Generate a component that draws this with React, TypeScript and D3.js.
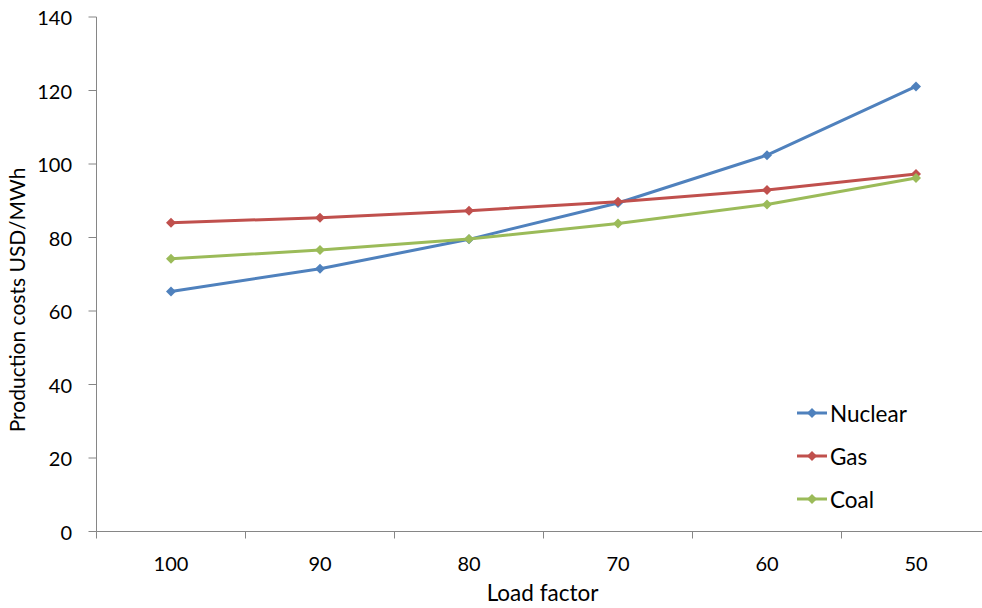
import React from "react";
import * as d3 from "d3";

const categories = ["100", "90", "80", "70", "60", "50"];
const nuclear = [65.3, 71.5, 79.5, 89.4, 102.4, 121.1];
const gas = [84.0, 85.4, 87.3, 89.7, 92.9, 97.3];
const coal = [74.2, 76.6, 79.6, 83.8, 89.0, 96.2];
const yTicks = [0, 20, 40, 60, 80, 100, 120, 140];
const seriesNames = ["Nuclear", "Gas", "Coal"];
const seriesColors = ["#4F81BD", "#C0504D", "#9BBB59"];

const W = 982;
const H = 608;
const left = 96.5;
const right = 990.5;
const top = 17;
const bottom = 531.5;
const FONT = "Lato, 'Open Sans', sans-serif";

export default function App() {
  const x = d3.scaleBand<string>().domain(categories).range([left, right]);
  const y = d3.scaleLinear().domain([0, 140]).range([bottom, top]);
  const data = [nuclear, gas, coal];
  const line = d3
    .line<number>()
    .x((_, i) => (x(categories[i]) as number) + x.bandwidth() / 2)
    .y((d) => y(d));
  const diamond = (cx: number, cy: number, r = 5) =>
    `M${cx},${cy - r}L${cx + r},${cy}L${cx},${cy + r}L${cx - r},${cy}Z`;
  const axisColor = "#868686";
  const boundaries = categories.map((c) => x(c) as number).concat([right]);

  return (
    <svg
      width={W}
      height={H}
      style={{ position: "absolute", left: 0, top: 0, background: "#fff" }}
      fontFamily={FONT}
    >
      {/* y axis */}
      <line x1={left} x2={left} y1={top} y2={bottom} stroke={axisColor} strokeWidth={1} />
      {yTicks.map((t) => (
        <g key={t}>
          <line x1={left - 8} x2={left} y1={y(t)} y2={y(t)} stroke={axisColor} />
          <text
            x={72}
            y={y(t)}
            textAnchor="end"
            dominantBaseline="central"
            fontSize={20}
            fill="#000"
          >
            {t}
          </text>
        </g>
      ))}
      {/* x axis */}
      <line x1={left} x2={right} y1={bottom} y2={bottom} stroke={axisColor} />
      {boundaries.map((b, i) => (
        <line key={i} x1={b} x2={b} y1={bottom} y2={bottom + 7} stroke={axisColor} />
      ))}
      {categories.map((c) => (
        <text
          key={c}
          x={(x(c) as number) + x.bandwidth() / 2}
          y={571}
          textAnchor="middle"
          fontSize={20}
          fill="#000"
        >
          {c}
        </text>
      ))}
      <text x={542.5} y={601} textAnchor="middle" fontSize={22.5} fill="#000">
        Load factor
      </text>
      <text
        transform={`translate(25,300) rotate(-90)`}
        textAnchor="middle"
        fontSize={21}
        fill="#000"
      >
        Production costs USD/MWh
      </text>
      {/* series */}
      {data.map((s, si) => (
        <g key={si}>
          <path d={line(s) || ""} fill="none" stroke={seriesColors[si]} strokeWidth={3} strokeLinejoin="round" />
          {s.map((v, i) => (
            <path
              key={i}
              d={diamond((x(categories[i]) as number) + x.bandwidth() / 2, y(v))}
              fill={seriesColors[si]}
            />
          ))}
        </g>
      ))}
      {/* legend */}
      {seriesNames.map((n, i) => {
        const ly = 413 + i * 43;
        return (
          <g key={n}>
            <line x1={797} x2={827} y1={ly} y2={ly} stroke={seriesColors[i]} strokeWidth={3} />
            <path d={diamond(812, ly)} fill={seriesColors[i]} />
            <text x={830} y={ly} dominantBaseline="central" fontSize={22.5} fill="#000">
              {n}
            </text>
          </g>
        );
      })}
    </svg>
  );
}
